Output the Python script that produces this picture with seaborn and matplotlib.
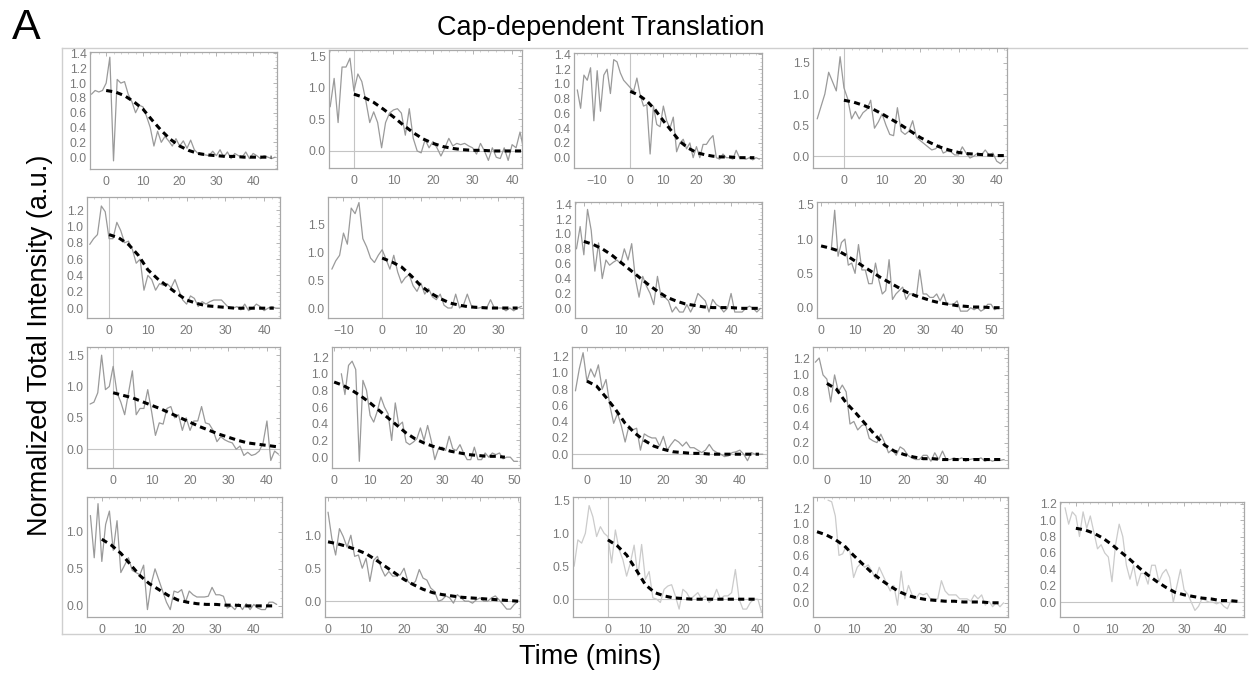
import numpy as np
import pandas as pd
import matplotlib
matplotlib.use("Agg")
import matplotlib.pyplot as plt
from matplotlib.ticker import AutoMinorLocator, FixedLocator, FuncFormatter
import seaborn as sns

# ---------------- data ----------------
# each panel: start time (min), 1-min sampled trace, fit values every 2.5 min from t=0
r1c1_t0 = -4
r1c1_y = [0.85, 0.9, 0.88, 0.9, 1.0, 1.35, -0.05, 1.05, 1.0, 1.02, 0.85, 0.75, 0.6, 0.7, 0.68, 0.55, 0.4,
          0.15, 0.35, 0.2, 0.28, 0.22, 0.15, 0.25, 0.15, 0.22, 0.12, 0.23, 0.1, 0.05, 0.03, 0.03, 0.02,
          0.08, 0.02, 0.1, 0.0, 0.07, -0.02, 0.05, 0.02, 0.0, 0.07, -0.02, 0.05, 0.02, -0.02, 0.02, 0.0,
          -0.02, 0.0]
r1c1_fit = [0.90, 0.88, 0.83, 0.75, 0.65, 0.50, 0.36, 0.24, 0.15, 0.09, 0.05, 0.03, 0.02, 0.01, 0.01,
            0.0, 0.0, 0.0, 0.0]

r1c2_t0 = -6
r1c2_y = [0.7, 1.15, 0.45, 1.33, 1.33, 1.47, 0.95, 1.22, 1.1, 0.8, 0.45, 0.62, 0.45, 0.05, 0.45, 0.6,
          0.65, 0.67, 0.6, 0.25, 0.67, 0.2, 0.0, -0.03, 0.18, 0.05, 0.15, 0.05, -0.08, 0.05, 0.2, 0.08,
          0.12, 0.1, 0.12, 0.08, 0.05, -0.05, 0.12, 0.0, -0.15, 0.05, -0.1, -0.12, 0.05, -0.15, 0.1, 0.05,
          0.3, 0.0, -0.07]
r1c2_fit = [0.90, 0.85, 0.77, 0.66, 0.54, 0.41, 0.29, 0.19, 0.12, 0.07, 0.04, 0.02, 0.01, 0.01, 0.0,
            0.0, 0.0, 0.0]

r1c3_t0 = -16
r1c3_y = [0.92, 0.67, 1.12, 1.05, 1.22, 0.5, 1.18, 0.63, 1.12, 1.2, 0.87, 1.33, 1.3, 1.15, 1.05, 1.0,
          0.95, 0.9, 1.08, 0.85, 0.7, 0.72, 0.05, 0.7, 0.45, 0.42, 0.7, 0.5, 0.4, 0.55, 0.08, 0.2, 0.25,
          0.12, 0.2, 0.0, 0.15, 0.0, 0.18, 0.18, 0.25, 0.3, 0.0, -0.02, 0.05, 0.0, 0.0, -0.02, 0.1, 0.0,
          0.0, -0.02, 0.0, -0.03, 0.0, -0.02]
r1c3_fit = [0.90, 0.85, 0.77, 0.65, 0.50, 0.36, 0.22, 0.13, 0.07, 0.04, 0.02, 0.01, 0.01, 0.0, 0.0,
            0.0, 0.0]

r1c4_t0 = -7
r1c4_y = [0.6, 0.8, 1.0, 1.35, 1.2, 1.05, 1.6, 1.1, 0.92, 0.6, 0.72, 0.6, 0.7, 0.75, 0.9, 0.45, 0.55,
          0.68, 0.5, 0.35, 0.33, 0.78, 0.4, 0.35, 0.4, 0.57, 0.3, 0.25, 0.2, 0.15, 0.1, 0.12, 0.18, 0.05,
          0.08, 0.07, 0.02, 0.02, 0.15, 0.05, -0.03, 0.0, 0.05, 0.02, 0.1, 0.02, 0.05, -0.08, -0.12, -0.05]
r1c4_fit = [0.90, 0.87, 0.82, 0.76, 0.68, 0.59, 0.50, 0.40, 0.30, 0.22, 0.15, 0.10, 0.06, 0.04, 0.03,
            0.02, 0.01, 0.01]

r2c1_t0 = -5
r2c1_y = [0.78, 0.85, 0.9, 1.25, 1.18, 0.85, 0.85, 1.05, 0.95, 0.8, 0.82, 0.72, 0.55, 0.6, 0.22, 0.4,
          0.35, 0.22, 0.3, 0.28, 0.3, 0.25, 0.35, 0.22, 0.1, 0.05, 0.15, 0.12, 0.02, 0.08, 0.05, 0.08,
          0.1, 0.1, 0.1, 0.05, 0.0, 0.0, 0.02, -0.02, 0.05, -0.03, 0.0, 0.05, 0.02, -0.03, 0.0, 0.02,
          0.0, 0.0]
r2c1_fit = [0.90, 0.86, 0.78, 0.65, 0.47, 0.36, 0.27, 0.18, 0.10, 0.06, 0.03, 0.02, 0.01, 0.0, 0.0,
            0.0, 0.0, 0.0]

r2c2_t0 = -13
r2c2_y = [0.7, 0.85, 0.95, 1.35, 1.15, 1.8, 1.7, 1.9, 1.25, 1.1, 0.9, 0.82, 0.95, 1.05, 0.88, 0.7,
          0.95, 0.65, 0.45, 0.55, 0.6, 0.4, 0.3, 0.45, 0.25, 0.35, 0.2, 0.15, 0.25, 0.05, 0.0, 0.0, 0.25,
          0.0, 0.05, 0.25, 0.05, 0.0, 0.0, 0.02, 0.0, 0.15, 0.0, 0.0, 0.0, -0.05, 0.0, -0.05, 0.0, 0.03]
r2c2_fit = [0.90, 0.83, 0.74, 0.58, 0.40, 0.27, 0.17, 0.09, 0.05, 0.02, 0.01, 0.0, 0.0, 0.0, 0.0]

r2c3_t0 = -2
r2c3_y = [0.8, 1.1, 0.72, 1.33, 1.05, 0.5, 0.88, 0.4, 0.65, 0.58, 0.62, 0.65, 0.6, 0.8, 0.65, 0.87,
          0.4, 0.15, 0.43, 0.3, 0.2, 0.05, 0.43, 0.15, 0.15, 0.1, -0.05, 0.02, -0.05, -0.05, 0.05, -0.05,
          0.05, 0.2, 0.15, 0.1, -0.05, 0.12, 0.05, 0.02, -0.05, 0.0, 0.2, -0.05, -0.05, -0.05, 0.0, 0.03,
          0.0, -0.05, 0.0]
r2c3_fit = [0.90, 0.86, 0.80, 0.72, 0.62, 0.52, 0.42, 0.32, 0.23, 0.15, 0.10, 0.06, 0.04, 0.02, 0.01,
            0.01, 0.01, 0.0, 0.0, 0.0]

r2c4_t0 = 3
r2c4_y = [0.85, 1.42, 0.75, 0.95, 1.0, 0.62, 0.65, 0.5, 0.92, 0.55, 0.55, 0.35, 0.35, 0.65, 0.4, 0.2,
          0.25, 0.7, 0.12, 0.2, 0.25, 0.3, 0.12, 0.2, 0.2, 0.15, 0.55, 0.2, 0.2, 0.15, 0.15, 0.2, 0.1,
          0.2, 0.05, 0.05, 0.05, 0.1, -0.05, -0.05, -0.05, 0.0, -0.03, 0.0, -0.05, -0.02, 0.05, 0.05,
          -0.03, 0.0]
r2c4_fit = [0.90, 0.87, 0.83, 0.76, 0.68, 0.60, 0.52, 0.44, 0.37, 0.30, 0.23, 0.18, 0.14, 0.10, 0.07,
            0.05, 0.03, 0.02, 0.01, 0.01, 0.0, 0.0]

r3c1_t0 = -6
r3c1_y = [0.72, 0.75, 0.9, 1.5, 0.95, 1.0, 1.32, 0.9, 0.75, 0.55, 0.9, 1.25, 0.55, 0.65, 0.65, 0.95,
          0.6, 0.22, 0.42, 0.4, 0.65, 0.68, 0.5, 0.55, 0.3, 0.5, 0.3, 0.45, 0.45, 0.68, 0.42, 0.4, 0.3,
          0.12, 0.2, 0.15, 0.12, 0.1, 0.0, 0.05, -0.1, -0.05, -0.1, -0.08, -0.03, 0.1, 0.45, -0.18,
          -0.03, -0.08]
r3c1_fit = [0.90, 0.86, 0.82, 0.76, 0.70, 0.64, 0.57, 0.50, 0.43, 0.36, 0.30, 0.24, 0.19, 0.14, 0.10,
            0.08, 0.06, 0.04]

r3c2_t0 = 2
r3c2_y = [1.0, 0.75, 1.1, 1.15, 1.05, -0.05, 0.92, 0.8, 0.5, 0.42, 0.55, 0.72, 0.6, 0.52, 0.2, 0.65,
          0.38, 0.42, 0.18, 0.15, 0.18, 0.22, 0.35, 0.2, 0.38, 0.2, -0.03, 0.1, 0.12, 0.08, 0.25, 0.1,
          0.08, 0.15, 0.05, -0.03, -0.03, 0.12, -0.03, -0.03, 0.05, 0.0, 0.05, 0.03, 0.05, -0.02, 0.0,
          0.0, -0.05, -0.05]
r3c2_fit = [0.90, 0.86, 0.80, 0.73, 0.65, 0.56, 0.47, 0.38, 0.29, 0.22, 0.17, 0.13, 0.10, 0.07, 0.05,
            0.03, 0.02, 0.01, 0.01, 0.0]

r3c3_t0 = -3
r3c3_y = [0.78, 1.05, 1.25, 0.9, 1.05, 0.95, 1.1, 0.8, 0.92, 0.6, 0.38, 0.5, 0.35, 0.15, 0.35, 0.3,
          0.32, 0.05, 0.25, 0.22, 0.2, 0.2, 0.1, 0.22, 0.05, 0.12, 0.18, 0.15, 0.1, 0.15, 0.08, 0.08,
          0.05, 0.02, 0.05, 0.12, 0.05, 0.02, 0.0, -0.03, -0.02, 0.02, 0.03, 0.05, 0.0, -0.08, 0.02,
          0.0, 0.0, 0.0]
r3c3_fit = [0.90, 0.84, 0.70, 0.55, 0.38, 0.26, 0.17, 0.10, 0.06, 0.03, 0.02, 0.01, 0.01, 0.0, 0.0,
            0.0, 0.0, 0.0, 0.0]

r3c4_t0 = -3
r3c4_y = [1.15, 1.2, 1.0, 0.95, 0.68, 1.0, 0.8, 0.88, 0.8, 0.42, 0.45, 0.35, 0.4, 0.42, 0.25, 0.22,
          0.2, 0.3, 0.2, 0.08, 0.12, 0.05, 0.15, 0.12, 0.05, 0.02, 0.0, 0.0, 0.05, 0.05, -0.02, 0.08,
          0.0, 0.1, 0.0, 0.0, 0.02, 0.0, 0.02, -0.02, 0.0, 0.01, 0.0, 0.02, -0.02, 0.0, -0.02, 0.0,
          -0.01, 0.0]
r3c4_fit = [0.90, 0.83, 0.67, 0.55, 0.42, 0.29, 0.17, 0.10, 0.06, 0.03, 0.01, 0.01, 0.0, 0.0, 0.0,
            0.0, 0.0, 0.0, 0.0]

r4c1_t0 = -3
r4c1_y = [1.22, 0.65, 1.38, 0.6, 1.1, 1.28, 0.75, 1.15, 0.45, 0.55, 0.65, 0.48, 0.45, 0.42, 0.55,
          -0.05, 0.3, 0.5, 0.35, 0.2, 0.05, -0.05, 0.2, 0.18, 0.22, 0.05, 0.2, 0.15, 0.12, 0.12, 0.12,
          0.13, 0.25, 0.15, 0.15, 0.13, -0.03, 0.0, -0.05, 0.03, -0.05, 0.03, -0.05, 0.02, -0.03, -0.05,
          -0.05, 0.05, 0.05, 0.02]
r4c1_fit = [0.90, 0.82, 0.71, 0.56, 0.41, 0.30, 0.22, 0.14, 0.08, 0.05, 0.03, 0.02, 0.02, 0.01, 0.01,
            0.0, 0.0, 0.0, 0.0]

r4c2_t0 = 0
r4c2_y = [1.35, 0.95, 0.7, 1.1, 0.98, 0.82, 1.0, 0.68, 0.7, 0.5, 0.65, 0.3, 0.62, 0.68, 0.5, 0.38,
          0.45, 0.38, 0.38, 0.4, 0.5, 0.3, 0.25, 0.3, 0.48, 0.35, 0.32, 0.2, 0.15, 0.0, 0.02, 0.08,
          0.05, -0.03, 0.1, 0.05, 0.0, 0.0, -0.03, 0.02, 0.05, 0.0, 0.0, 0.05, 0.08, 0.02, -0.05, -0.12,
          -0.12, -0.05, 0.0]
r4c2_fit = [0.90, 0.87, 0.83, 0.78, 0.72, 0.63, 0.53, 0.43, 0.33, 0.25, 0.18, 0.13, 0.10, 0.08, 0.06,
            0.05, 0.04, 0.03, 0.02, 0.01, 0.0]

r4c3_t0 = -9
r4c3_y = [0.5, 0.9, 0.85, 1.0, 1.42, 1.25, 0.95, 1.1, 1.0, 0.95, 0.55, 1.05, 0.75, 0.6, 0.35, 0.55,
          0.82, 0.35, 0.83, 0.3, 0.42, 0.02, 0.0, -0.05, 0.15, 0.2, 0.22, 0.05, -0.15, 0.15, 0.1, 0.0,
          0.05, 0.1, 0.0, 0.05, -0.05, 0.0, 0.15, 0.0, 0.05, 0.05, 0.1, 0.45, 0.0, -0.15, -0.15, -0.05,
          0.0, 0.0, -0.2]
r4c3_fit = [0.90, 0.81, 0.67, 0.45, 0.22, 0.10, 0.05, 0.02, 0.01, 0.0, 0.0, 0.0, 0.0, 0.0, 0.0, 0.0,
            0.0]

r4c4_t0 = 3
r4c4_y = [1.3, 1.28, 1.1, 0.6, 0.62, 0.72, 0.65, 0.32, 0.45, 0.5, 0.45, 0.48, 0.4, 0.3, 0.45, 0.35,
          0.25, 0.15, 0.22, -0.03, 0.4, 0.05, 0.22, 0.1, 0.05, 0.12, 0.1, 0.12, 0.05, 0.05, 0.05, 0.28,
          0.15, 0.1, 0.1, 0.1, 0.05, 0.05, 0.05, 0.02, 0.1, 0.05, 0.1, -0.03, 0.02, -0.05, 0.0, -0.05,
          0.0]
r4c4_fit = [0.90, 0.86, 0.80, 0.72, 0.60, 0.49, 0.38, 0.29, 0.21, 0.14, 0.09, 0.06, 0.04, 0.03, 0.02,
            0.02, 0.01, 0.01, 0.01, 0.0, 0.0]

r4c5_t0 = -3
r4c5_y = [1.15, 0.95, 1.1, 1.05, 0.8, 1.1, 0.9, 1.05, 0.85, 0.65, 0.7, 0.6, 0.55, 0.25, 0.7, 0.95,
          0.8, 0.45, 0.28, 0.45, 0.2, 0.35, 0.35, 0.22, 0.45, 0.45, 0.25, 0.35, 0.4, 0.3, 0.0, 0.2, 0.4,
          0.15, 0.1, 0.0, -0.1, -0.05, 0.05, 0.02, 0.0, 0.0, -0.02, 0.0, -0.05, -0.08, 0.02, 0.0, 0.0]
r4c5_fit = [0.90, 0.88, 0.84, 0.78, 0.70, 0.61, 0.52, 0.42, 0.33, 0.25, 0.18, 0.12, 0.09, 0.07, 0.05,
            0.04, 0.02, 0.02, 0.01]

panel_names = ["r1c1", "r1c2", "r1c3", "r1c4", "r2c1", "r2c2", "r2c3", "r2c4",
               "r3c1", "r3c2", "r3c3", "r3c4", "r4c1", "r4c2", "r4c3", "r4c4", "r4c5"]

title_text = "Cap-dependent Translation"
ylabel_text = "Normalized Total Intensity (a.u.)"
xlabel_text = "Time (mins)"
panel_letter = "A"

# ---------------- layout / style (pixel boxes, axis ranges, ticks) ----------------
W, H = 1249, 675
boxes = {  # left, top, right, bottom in pixels
    "r1c1": (90, 52, 277, 169), "r1c2": (329, 50, 522, 168), "r1c3": (574, 53, 762, 168),
    "r1c4": (813, 48, 1007, 168),
    "r2c1": (87, 197, 280, 318), "r2c2": (328, 197, 523, 318), "r2c3": (575, 202, 762, 318),
    "r2c4": (817, 202, 1003, 318),
    "r3c1": (87, 347, 280, 468), "r3c2": (332, 347, 520, 468), "r3c3": (572, 347, 767, 468),
    "r3c4": (813, 347, 1008, 468),
    "r4c1": (87, 497, 282, 617), "r4c2": (325, 497, 520, 617), "r4c3": (573, 497, 762, 617),
    "r4c4": (813, 497, 1008, 617), "r4c5": (1060, 502, 1244, 617),
}
xlims = {
    "r1c1": (-4.4, 46.5), "r1c2": (-6.3, 42.5), "r1c3": (-17, 39.8), "r1c4": (-8.1, 42.7),
    "r2c1": (-5.7, 44.1), "r2c2": (-14, 36.4), "r2c3": (-2.4, 48.4), "r2c4": (-1.2, 53.5),
    "r3c1": (-6.8, 43.4), "r3c2": (-0.6, 51.7), "r3c3": (-3.9, 47.1), "r3c4": (-3.6, 47.0),
    "r4c1": (-3.9, 47.4), "r4c2": (-0.8, 50.5), "r4c3": (-9.3, 41.1), "r4c4": (-1.1, 52.2),
    "r4c5": (-4.4, 46.6),
}
ylims = {
    "r1c1": (-0.16, 1.42), "r1c2": (-0.27, 1.6), "r1c3": (-0.14, 1.42), "r1c4": (-0.19, 1.74),
    "r2c1": (-0.12, 1.36), "r2c2": (-0.18, 2.0), "r2c3": (-0.13, 1.43), "r2c4": (-0.15, 1.54),
    "r3c1": (-0.3, 1.63), "r3c2": (-0.13, 1.32), "r3c3": (-0.17, 1.32), "r3c4": (-0.1, 1.33),
    "r4c1": (-0.15, 1.47), "r4c2": (-0.24, 1.58), "r4c3": (-0.27, 1.55), "r4c4": (-0.18, 1.34),
    "r4c5": (-0.18, 1.22),
}
yt_fine = [0.0, 0.2, 0.4, 0.6, 0.8, 1.0, 1.2, 1.4]
yt_half = [0.0, 0.5, 1.0, 1.5]
yticks = {
    "r1c1": yt_fine, "r1c2": yt_half, "r1c3": yt_fine, "r1c4": yt_half,
    "r2c1": yt_fine[:7], "r2c2": yt_half, "r2c3": yt_fine, "r2c4": yt_half,
    "r3c1": yt_half, "r3c2": yt_fine[:7], "r3c3": yt_fine[:7], "r3c4": yt_fine[:7],
    "r4c1": yt_half[:3], "r4c2": yt_half[:3], "r4c3": yt_half, "r4c4": yt_fine[:7], "r4c5": yt_fine[:7],
}
vline0 = {"r1c2", "r1c3", "r1c4", "r2c1", "r2c2", "r3c1", "r4c3"}
hline0 = {"r1c2", "r1c4", "r3c1", "r3c3", "r4c2", "r4c3", "r4c5"}
light = {"r4c3", "r4c4", "r4c5"}

sns.set_style("white")
plt.rcParams["font.family"] = ["Liberation Sans", "DejaVu Sans"]
plt.rcParams["axes.unicode_minus"] = True

fig = plt.figure(figsize=(W / 100, H / 100), dpi=100)

# outer light frame
outer = fig.add_axes([62 / W, 1 - 634 / H, (1247 - 62) / W, (634 - 48) / H])
outer.set_xticks([]); outer.set_yticks([])
outer.patch.set_alpha(0)
for s in outer.spines.values():
    s.set_color("#cfcfcf"); s.set_linewidth(1.0)
outer.spines["right"].set_visible(False)

frame_col = "#a8a8a8"
tick_col = "#7a7a7a"


def fmt_x(v, pos):
    return ("\u2212%d" % abs(v)) if v < 0 else "%d" % v


for name in panel_names:
    l, t, r, b = boxes[name]
    ax = fig.add_axes([l / W, 1 - b / H, (r - l) / W, (b - t) / H])
    y = np.array(globals()[name + "_y"])
    t0 = globals()[name + "_t0"]
    fit = np.array(globals()[name + "_fit"])
    tt = t0 + np.arange(len(y))
    tf = np.arange(len(fit)) * 2.5
    x0, x1 = xlims[name]
    ax.set_xlim(x0, x1)
    ax.set_ylim(*ylims[name])
    if name in vline0:
        ax.axvline(0, color="#c4c4c4", lw=0.8, zorder=1)
    if name in hline0:
        ax.axhline(0, color="#c4c4c4", lw=0.8, zorder=1)
    dcol = "#cbcbcb" if name in light else "#9a9a9a"
    sns.lineplot(x=tt, y=y, ax=ax, color=dcol, lw=0.9, estimator=None, sort=False, zorder=2)
    sns.lineplot(x=tf[tf <= x1], y=fit[tf <= x1], ax=ax, color="black", lw=2.2, estimator=None,
                 sort=False, zorder=3, dashes=False, linestyle=(0, (2.0, 1.4)))
    # ticks
    ax.set_yticks(yticks[name])
    ax.yaxis.set_major_formatter(FuncFormatter(lambda v, p: "%.1f" % v))
    step = 10
    xt = [v for v in range(-30, 70, step) if x0 <= v <= x1]
    ax.set_xticks(xt)
    ax.xaxis.set_major_formatter(FuncFormatter(fmt_x))
    ax.xaxis.set_minor_locator(AutoMinorLocator(5))
    ax.yaxis.set_minor_locator(AutoMinorLocator(5 if yticks[name][1] - yticks[name][0] > 0.3 else 4))
    ax.tick_params(which="major", direction="in", length=3, width=0.6, color=frame_col,
                   top=True, right=True, labelsize=8.8, labelcolor=tick_col, pad=2.5)
    ax.tick_params(axis="x", which="major", pad=5)
    ax.tick_params(which="minor", direction="in", length=1.6, width=0.5, color="#c0c0c0",
                   top=True, right=True)
    for s in ax.spines.values():
        s.set_color(frame_col); s.set_linewidth(0.9)
    ax.set_xlabel(""); ax.set_ylabel("")
    ax.grid(False)

fig.text(601 / W, 1 - 28 / H, title_text, ha="center", va="center", fontsize=19.5, color="black")
fig.text(12 / W, 1 - 28 / H, panel_letter, ha="left", va="center", fontsize=31, color="black")
fig.text(40 / W, 1 - 345 / H, ylabel_text, ha="center", va="center", rotation=90, fontsize=19.5,
         color="black")
fig.text(590 / W, 1 - 657 / H, xlabel_text, ha="center", va="center", fontsize=19.5, color="black")

fig.savefig("out.png", dpi=100)
